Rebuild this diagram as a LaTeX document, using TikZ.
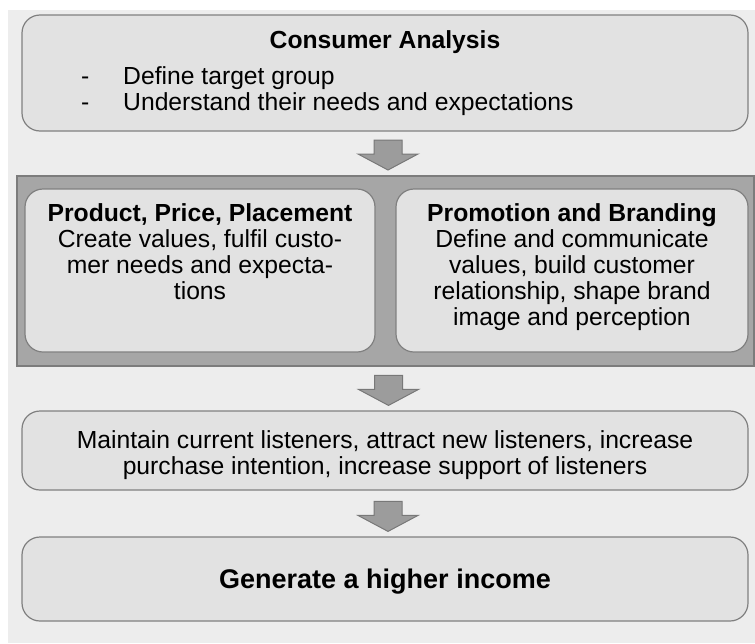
\documentclass[tikz,border=0pt]{standalone}
\usepackage{fontspec}
\setmainfont{Liberation Sans}
\usepackage{tikz}
\usetikzlibrary{calc,backgrounds,positioning}

\definecolor{pagegray}{HTML}{EDEDED}
\definecolor{boxgray}{HTML}{E2E2E2}
\definecolor{linegray}{HTML}{808080}
\definecolor{groupgray}{HTML}{A6A6A6}
\definecolor{grouplinegray}{HTML}{7C7C7C}
\definecolor{arrowgray}{HTML}{9C9C9C}
\definecolor{arrowlinegray}{HTML}{787878}

\tikzset{
  panel/.style={draw=linegray,fill=boxgray,line width=1.2pt,rounded corners=18pt,inner sep=0pt},
  group/.style={draw=grouplinegray,fill=groupgray,line width=2pt,inner sep=0pt},
  body/.style={inner sep=0pt,align=center,font=\fontsize{24.7}{26}\selectfont},
  item/.style={inner sep=0pt,font=\fontsize{24.7}{26}\selectfont},
  head/.style={inner sep=0pt,font=\fontsize{24.7}{26}\selectfont\bfseries},
  blockarrow/.style={draw=arrowlinegray,fill=arrowgray,line width=1pt,
    to path={let \p1=(\tikztostart), \p2=(\tikztotarget) in
      (\x1-11pt,\y2+35pt) -- (\x1+17pt,\y2+35pt) -- (\x1+17pt,\y2+21pt) -- (\x1+33pt,\y2+21pt)
      -- (\x1+3pt,\y2+5pt) -- (\x1-27pt,\y2+21pt) -- (\x1-11pt,\y2+21pt) -- cycle}}
}

\begin{document}
\begin{tikzpicture}[x=1pt,y=1pt]
  \useasboundingbox (0,0) rectangle (755,-643);
  % Consumer analysis
  \node[panel,minimum width=726pt,minimum height=116pt] (Consumer box) at (385,-73) {};
  \node[head,anchor=base] (Consumer head) at (385,-48) {Consumer Analysis};
  \node[item,anchor=base west] (Consumer item 1) at (81,-84) {\makebox[42pt][l]{-}Define target group};
  \node[item,anchor=base west] (Consumer item 2) at (81,-110) {\makebox[42pt][l]{-}Understand their needs and expectations};
  \begin{scope}
    % Marketing mix
    \node[group,minimum width=737pt,minimum height=190pt] (Mix box) at (385.5,-271) {};
    \node[panel,minimum width=350pt,minimum height=163pt] (Product box)   at (200,-270.5) {};
    \node[panel,minimum width=352pt,minimum height=163pt] (Promotion box) at (572,-270.5) {};
    \node[body,anchor=north] (Product text) at (200,-203.5)
      {\textbf{Product, Price, Placement}\\Create values, fulfil custo-\\mer needs and expecta-\\tions};
    \node[body,anchor=north] (Promotion text) at (572,-203.5)
      {\textbf{Promotion and Branding}\\Define and communicate\\values, build customer\\relationship, shape brand\\image and perception};
  \end{scope}
  % Listeners
  \node[panel,minimum width=726pt,minimum height=79pt] (Listener box) at (385,-450.5) {};
  \node[body,anchor=north] (Listener text) at (385,-430.5)
    {Maintain current listeners, attract new listeners, increase\\purchase intention, increase support of listeners};
  % Income
  \node[panel,minimum width=726pt,minimum height=84pt] (Income box) at (385,-579) {};
  \node[inner sep=0pt,font=\fontsize{27}{30}\selectfont\bfseries,anchor=base] (Income text) at (385,-588)
    {Generate a higher income};
  % Connecting arrows
  \path
  (Consumer box.south) edge[blockarrow] (Mix box.north)
  (Mix box.south)      edge[blockarrow] (Listener box.north)
  (Listener box.south) edge[blockarrow] (Income box.north);

  \begin{pgfonlayer}{background}
    \fill[pagegray] (8,-10) rectangle (755,-643);
  \end{pgfonlayer}
\end{tikzpicture}
\end{document}
